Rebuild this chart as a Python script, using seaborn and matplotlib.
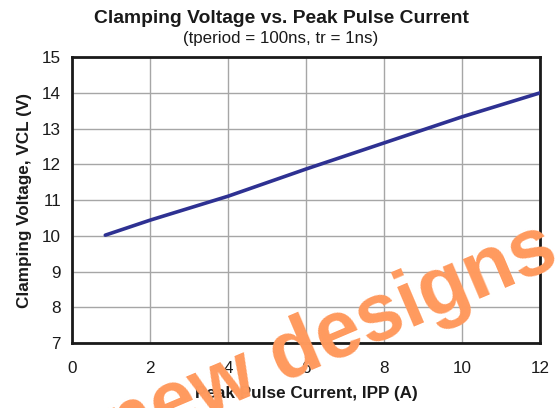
import matplotlib
matplotlib.use("Agg")
import matplotlib.pyplot as plt
import seaborn as sns
import pandas as pd

# values
current_a = [0.85, 2, 4, 6, 8, 10, 12]
clamp_v = [10.02, 10.44, 11.11, 11.87, 12.6, 13.33, 14.0]
x_ticks = [0, 2, 4, 6, 8, 10, 12]
y_ticks = [7, 8, 9, 10, 11, 12, 13, 14, 15]

df = pd.DataFrame({"Ipp": current_a, "Vcl": clamp_v})

sns.set_style("white")
plt.rcParams["font.family"] = ["Liberation Sans", "DejaVu Sans"]

fig = plt.figure(figsize=(5.55, 4.08), dpi=100)
ax = fig.add_axes([0.130, 0.159, 0.843, 0.701])

sns.lineplot(data=df, x="Ipp", y="Vcl", ax=ax, color="#2e3192", linewidth=2.6, zorder=3)

ax.set_xlim(0, 12)
ax.set_ylim(7, 15)
ax.set_xticks(x_ticks)
ax.set_yticks(y_ticks)
ax.grid(True, color="#a6a6a6", linewidth=1.0)
for s in ax.spines.values():
    s.set_visible(True)
    s.set_color("#1a1a1a")
    s.set_linewidth(2.0)
ax.tick_params(axis="both", direction="out", length=5, width=0.8, color="#888888",
               labelsize=12.3, labelcolor="#1a1a1a", pad=3)
ax.tick_params(axis="x", pad=8)

ax.set_xlabel("Peak Pulse Current, IPP (A)", fontsize=12.3, fontweight="bold", color="#1a1a1a", labelpad=7)
ax.set_ylabel("Clamping Voltage, VCL (V)", fontsize=12.3, fontweight="bold", color="#1a1a1a", labelpad=7)

fig.text(0.507, 0.955, "Clamping Voltage vs. Peak Pulse Current", ha="center", va="center",
         fontsize=13.9, fontweight="bold", color="#1a1a1a")
fig.text(0.505, 0.906, "(tperiod = 100ns, tr = 1ns)", ha="center", va="center",
         fontsize=12.2, color="#1a1a1a")

# watermark
fig.text(561 / 555, 1 - 264 / 408, "Not recommended for new designs", ha="right", va="baseline",
         rotation=23, rotation_mode="anchor", fontsize=58, fontweight="bold",
         color="#ff9a5e", zorder=10)

fig.savefig("out.png", dpi=100)
